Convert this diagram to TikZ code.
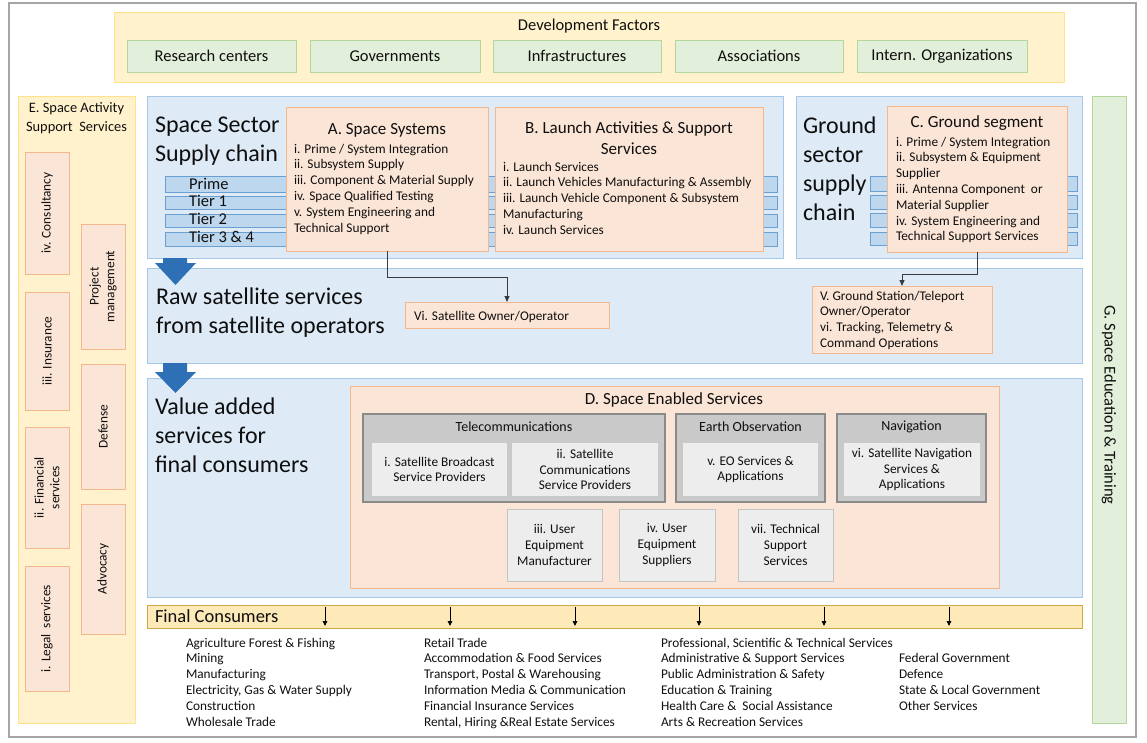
\documentclass[tikz,border=0pt]{standalone}
\usepackage{fontspec}
\setmainfont{Carlito}
\usetikzlibrary{arrows.meta}
\definecolor{textc}{HTML}{0F0F0F}
\definecolor{frame}{HTML}{A6A6A6}
\definecolor{yfill}{HTML}{FFF2CC}
\definecolor{yline}{HTML}{FFE28A}
\definecolor{gfill}{HTML}{E2EFDA}
\definecolor{gline}{HTML}{B4D79C}
\definecolor{bfill}{HTML}{DEEBF7}
\definecolor{bline}{HTML}{A6C8E8}
\definecolor{tfill}{HTML}{BDD7EE}
\definecolor{tline}{HTML}{6A9FD2}
\definecolor{ofill}{HTML}{FBE5D6}
\definecolor{oline}{HTML}{F4B88E}
\definecolor{gyfill}{HTML}{C9C9C9}
\definecolor{gyline}{HTML}{8A8A8A}
\definecolor{lgfill}{HTML}{EDEDED}
\definecolor{lgline}{HTML}{C4C4C4}
\definecolor{fcfill}{HTML}{FDEAB8}
\definecolor{fcline}{HTML}{CFA946}
\definecolor{arrowblue}{HTML}{2E70B5}
\definecolor{connc}{HTML}{3A3A3A}
\newcommand\bx[7]{\node[#2, minimum width={(#5-#3)*1pt}, minimum height={(#6-#4)*1pt}, align=center] (#1) at ({(#3+#5)/2},{(#4+#6)/2}) {#7};}
\newcommand\llines[1]{\begin{tabular}[t]{@{}l@{}}#1\end{tabular}}
\newcommand\clines[1]{\begin{tabular}[t]{@{}c@{}}#1\end{tabular}}
\begin{document}
\begin{tikzpicture}[x=1pt,y=-1pt,
  every node/.style={inner sep=0pt, outer sep=0pt, text=textc},
  ybox/.style={draw=yline, fill=yfill, line width=0.9pt},
  gbox/.style={draw=gline, fill=gfill, line width=0.9pt},
  bbox/.style={draw=bline, fill=bfill, line width=0.9pt},
  tbar/.style={draw=tline, fill=tfill, line width=0.8pt},
  obox/.style={draw=oline, fill=ofill, line width=0.9pt},
  gybox/.style={draw=gyline, fill=gyfill, line width=1.3pt},
  lgin/.style={fill=lgfill},
  lgbox/.style={draw=lgline, fill=lgfill, line width=0.8pt},
  fcbar/.style={draw=fcline, fill=fcfill, line width=1pt},
  body/.style={font=\fontsize{13.3}{15.8}\selectfont},
  ttl/.style={font=\fontsize{17}{21}\selectfont},
  dft/.style={font=\fontsize{16.5}{20}\selectfont},
  big/.style={font=\fontsize{24}{29}\selectfont},
  conn/.style={draw=connc, line width=1pt, -{Triangle[length=6pt,width=5pt]}},
  fcarrow/.style={draw=black, line width=0.9pt, -{Triangle[length=5pt,width=4.5pt]}}
]
\useasboundingbox (0,0) rectangle (1147,742);
\draw[frame, line width=1.4pt] (9,3) rectangle (1136,737);

% Development factors
\bx{dev}{ybox}{114}{12}{1064}{82}{}
\node[dft] (devt) at (589,26) {Development Factors};
\bx{rc}{gbox,dft}{127}{40}{296}{72}{Research centers}
\bx{gov}{gbox,dft}{310}{40}{480}{72}{Governments}
\bx{inf}{gbox,dft}{493}{40}{661}{72}{Infrastructures}
\bx{ass}{gbox,dft}{675}{40}{843}{72}{Associations}
\bx{ino}{gbox,dft}{857}{40}{1027}{72}{Intern. Organizations}

% E. support services
\bx{E}{ybox}{18}{96}{135}{723}{}
\node[font=\fontsize{14.4}{19}\selectfont, anchor=base] (Et) at (76.5,112) {\clines{E. Space Activity\\Support~ Services}};
\bx{econs}{obox}{25}{152}{69}{274}{}
\bx{eins}{obox}{25}{292}{69}{410}{}
\bx{efin}{obox}{25}{427}{69}{548}{}
\bx{eleg}{obox}{25}{566}{69}{691}{}
\bx{epm}{obox}{81}{224}{125}{349}{}
\bx{edef}{obox}{81}{364}{125}{489}{}
\bx{eadv}{obox}{81}{504}{125}{634}{}
\node[body, rotate=90] (tcons) at (econs) {iv. Consultancy};
\node[body, rotate=90] (tins) at (eins) {iii. Insurance};
\node[body, rotate=90, align=center] (tfin) at (efin) {ii. Financial\\services};
\node[body, rotate=90] (tleg) at (eleg) {i. Legal~~services};
\node[body, rotate=90, align=center] (tpm) at (epm) {Project\\management};
\node[body, rotate=90] (tdef) at (edef) {Defense};
\node[body, rotate=90] (tadv) at (eadv) {Advocacy};

% G. education
\bx{G}{gbox}{1092}{96}{1126}{723}{}
\node[dft, rotate=-90] (Gt) at (1109,405) {G. Space Education \& Training};

% Space sector supply chain
\bx{SS}{bbox}{147}{96}{783}{258}{}
\node[big, anchor=base west] (SSt) at (155,132) {\llines{Space Sector\\[0.5pt]Supply chain}};
\bx{tp}{tbar}{165}{176}{777}{192}{}
\bx{t1}{tbar}{165}{196}{777}{209}{}
\bx{t2}{tbar}{165}{214}{777}{227}{}
\bx{t3}{tbar}{165}{232}{777}{246}{}
\node[dft, anchor=base west] (tpt) at (189,189) {Prime};
\node[dft, anchor=base west] (t1t) at (189,206.5) {Tier 1};
\node[dft, anchor=base west] (t2t) at (189,224.5) {Tier 2};
\node[dft, anchor=base west] (t3t) at (189,242.5) {Tier 3 \& 4};
\bx{A}{obox}{286}{107}{488}{251}{}
\node[ttl] (At) at (387,130) {A. Space Systems};
\node[body, anchor=base west] (Ai) at (294,153) {\llines{i. Prime / System Integration\\ii. Subsystem Supply\\iii. Component \& Material Supply\\iv. Space Qualified Testing\\v. System Engineering and\\Technical Support}};
\bx{B}{obox}{495}{107}{763}{251}{}
\node[ttl, anchor=base] (Bt) at (629,133) {\clines{B. Launch Activities \& Support\\Services}};
\node[body, anchor=base west] (Bi) at (503,171) {\llines{i. Launch Services\\ii. Launch Vehicles Manufacturing \& Assembly\\iii. Launch Vehicle Component \& Subsystem\\Manufacturing\\iv. Launch Services}};

% Ground sector
\bx{GS}{bbox}{796}{96}{1082}{258}{}
\node[big, anchor=base west] (GSt) at (803,133) {\llines{Ground\\sector\\supply\\chain}};
\bx{gp}{tbar}{870}{176}{1077}{191}{}
\bx{g1}{tbar}{870}{195}{1077}{209}{}
\bx{g2}{tbar}{870}{213}{1077}{227}{}
\bx{g3}{tbar}{870}{232}{1077}{245}{}
\bx{C}{obox}{887}{106}{1067}{252}{}
\node[ttl] (Ct) at (977,123) {C. Ground segment};
\node[body, anchor=base west] (Ci) at (896,146) {\llines{i. Prime / System Integration\\ii. Subsystem \& Equipment\\Supplier\\iii. Antenna Component~ or\\Material Supplier\\iv. System Engineering and\\Technical Support Services}};

% Raw satellite services
\bx{Raw}{bbox}{147}{268}{1082}{363}{}
\node[big, anchor=base west] (Rawt) at (156,304) {\llines{Raw satellite services\\from satellite operators}};
\bx{Sat}{obox}{405}{302}{609}{328}{}
\node[body, anchor=base west] (Satt) at (414,320) {Vi. Satellite Owner/Operator};
\bx{GSO}{obox}{812}{286}{992}{353}{}
\node[body, anchor=base west] (GSOt) at (820,300) {\llines{V. Ground Station/Teleport\\Owner/Operator\\vi. Tracking, Telemetry \&\\Command Operations}};

% Value added
\bx{Val}{bbox}{147}{378}{1082}{597}{}
\node[big, anchor=base west] (Valt) at (155,414) {\llines{Value added\\services for\\final consumers}};
\bx{D}{obox}{350}{386}{999}{588}{}
\node[ttl] (Dt) at (674,400) {D. Space Enabled Services};
\bx{Tel}{gybox}{363}{414}{665}{502}{}
\node[font=\fontsize{14}{17}\selectfont] (Telt) at (514,427) {Telecommunications};
\bx{d1}{lgin,body}{372}{443}{507}{496}{i. Satellite Broadcast\\Service Providers}
\bx{d2}{lgin,body}{512}{443}{658}{496}{ii. Satellite\\Communications\\Service Providers}
\bx{EO}{gybox}{676}{414}{825}{502}{}
\node[font=\fontsize{14}{17}\selectfont] (EOt) at (750.5,427) {Earth Observation};
\bx{d5}{lgin,body}{683}{443}{818}{496}{v. EO Services \&\\Applications}
\bx{Nav}{gybox}{837}{414}{986}{502}{}
\node[font=\fontsize{14}{17}\selectfont] (Navt) at (911.5,427) {Navigation};
\bx{d6}{lgin,body}{844}{443}{980}{496}{vi. Satellite Navigation\\Services \&\\Applications}
\bx{d3}{lgbox,body}{507}{509}{602}{581}{iii. User\\Equipment\\Manufacturer}
\bx{d4}{lgbox,body}{619}{509}{715}{581}{iv. User\\Equipment\\Suppliers}
\bx{d7}{lgbox,body}{738}{509}{833}{581}{vii. Technical\\Support\\Services}

% Final consumers
\bx{FC}{fcbar}{147}{605}{1082}{628}{}
\node[font=\fontsize{18.5}{22}\selectfont, anchor=base west] (FCt) at (155,622) {Final Consumers};
\foreach \x [count=\i] in {325,450,575,699,824,949} {
  \coordinate (fa\i) at (\x,607);
  \coordinate (fb\i) at (\x,626);
  \draw[fcarrow] (fa\i) -- (fb\i);
}
\node[body, anchor=base west] (L1) at (186,647) {\llines{Agriculture Forest \& Fishing\\Mining\\Manufacturing\\Electricity, Gas \& Water Supply\\Construction\\Wholesale Trade}};
\node[body, anchor=base west] (L2) at (424,647) {\llines{Retail Trade\\Accommodation \& Food Services\\Transport, Postal \& Warehousing\\Information Media \& Communication\\Financial Insurance Services\\Rental, Hiring \&Real Estate Services}};
\node[body, anchor=base west] (L3) at (661,647) {\llines{Professional, Scientific \& Technical Services\\Administrative \& Support Services\\Public Administration \& Safety\\Education \& Training\\Health Care \& ~Social Assistance\\Arts \& Recreation Services}};
\node[body, anchor=base west] (L4) at (899,662.8) {\llines{Federal Government\\Defence\\State \& Local Government\\Other Services}};

% blue flow arrows
\fill[arrowblue] (163,258) -- (187,258) -- (187,263) -- (196,263) -- (175.5,285) -- (155,263) -- (163,263) -- cycle;
\fill[arrowblue] (163,363) -- (187,363) -- (187,372) -- (196,372) -- (175.5,393) -- (155,372) -- (163,372) -- cycle;

% connectors
\draw[conn] (A.south) -- ++(0,26) -| (Sat.north);
\draw[conn] (C.south) -- ++(0,22) -| (GSO.north);
\end{tikzpicture}
\end{document}
